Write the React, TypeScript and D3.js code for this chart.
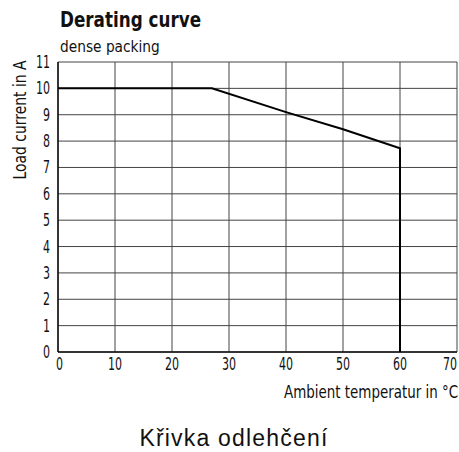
import { useEffect, useRef } from 'react';
import * as d3 from 'd3';

const xTicks = [0, 10, 20, 30, 40, 50, 60, 70];
const yTicks = [0, 1, 2, 3, 4, 5, 6, 7, 8, 9, 10, 11];
const curveTemp = [0, 27, 40, 50, 60, 60];
const curveLoad = [10, 10, 9.1, 8.45, 7.73, 0];

const W = 459;
const H = 452;
const FONT = '"DejaVu Sans", sans-serif';

type Sel = d3.Selection<any, unknown, null, undefined>;

// DejaVu has no condensed face here, so squeeze the glyphs horizontally
function label(parent: Sel, x: number, y: number, txt: string, size: number, sx: number,
  anchor = 'start', bold = false, rotate = 0) {
  return parent.append('text')
    .attr('transform', `translate(${x},${y}) rotate(${rotate}) scale(${sx},1)`)
    .attr('text-anchor', anchor)
    .style('font-family', FONT)
    .style('font-size', `${size}px`)
    .style('font-weight', bold ? 'bold' : 'normal')
    .attr('fill', '#111')
    .text(txt);
}

export default function App() {
  const svgRef = useRef<SVGSVGElement>(null);

  useEffect(() => {
    if (!svgRef.current) return;
    const svg = d3.select(svgRef.current) as unknown as Sel;
    svg.selectAll('*').remove();

    const margin = { top: 62, right: 2, bottom: 100, left: 58 };
    const width = W - margin.left - margin.right;
    const height = H - margin.top - margin.bottom;

    const x = d3.scaleLinear().domain([0, 70]).range([0, width]);
    const y = d3.scaleLinear().domain([0, 11]).range([height, 0]);

    const g = svg.append('g').attr('transform', `translate(${margin.left},${margin.top})`) as Sel;

    // grid
    g.append('g')
      .selectAll('line')
      .data(xTicks)
      .join('line')
      .attr('x1', d => x(d))
      .attr('x2', d => x(d))
      .attr('y1', 0)
      .attr('y2', height)
      .attr('stroke', '#444')
      .attr('stroke-width', 1);

    g.append('g')
      .selectAll('line')
      .data(yTicks)
      .join('line')
      .attr('x1', 0)
      .attr('x2', width)
      .attr('y1', d => y(d))
      .attr('y2', d => y(d))
      .attr('stroke', '#444')
      .attr('stroke-width', 1);

    // axes
    g.append('line').attr('x1', 0).attr('x2', 0).attr('y1', 0).attr('y2', height)
      .attr('stroke', '#111').attr('stroke-width', 1.5);
    g.append('line').attr('x1', 0).attr('x2', width).attr('y1', height).attr('y2', height)
      .attr('stroke', '#111').attr('stroke-width', 1.5);

    // tick labels
    yTicks.forEach(d => {
      label(g, -8, y(d) + 6, String(d), 17, 0.65, 'end');
    });
    xTicks.forEach(d => {
      const px = d === 0 ? x(d) + 1.5 : d === 70 ? x(d) - 7 : x(d);
      label(g, px, height + 18, String(d), 17, 0.65, 'middle');
    });

    // curve
    const pts = curveTemp.map((t, i) => [t, curveLoad[i]] as [number, number]);
    g.append('path')
      .datum(pts)
      .attr('fill', 'none')
      .attr('stroke', '#000')
      .attr('stroke-width', 2)
      .attr('d', d3.line<[number, number]>().x(d => x(d[0])).y(d => y(d[1])));

    // titles
    label(svg, 60, 27, 'Derating curve', 21, 0.8, 'start', true);
    label(svg, 60, 52, 'dense packing', 16, 0.86);
    label(svg, 26, 120, 'Load  current in A', 17, 0.82, 'middle', false, -90);
    label(svg, 458, 398, 'Ambient temperatur in °C', 17, 0.79, 'end');

    svg.append('text')
      .attr('x', 234)
      .attr('y', 446)
      .attr('text-anchor', 'middle')
      .style('font-family', '"Liberation Sans", Arial, sans-serif')
      .style('font-size', '23px')
      .style('letter-spacing', '1.2px')
      .attr('fill', '#111')
      .text('Křivka odlehčení');
  }, []);

  return (
    <svg
      ref={svgRef}
      width={W}
      height={H}
      style={{ position: 'absolute', left: 0, top: 0, background: '#fff' }}
    />
  );
}
